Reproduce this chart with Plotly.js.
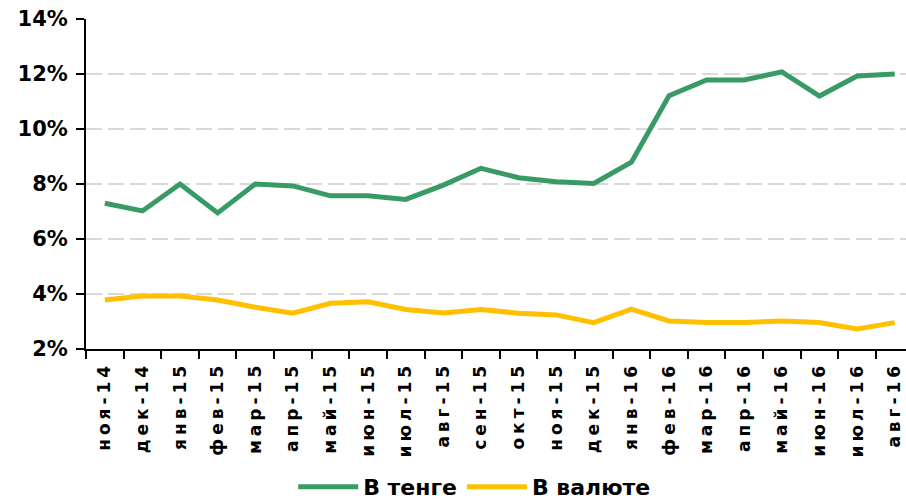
<!DOCTYPE html>
<html>
<head>
<meta charset="utf-8">
<script src="https://cdn.plot.ly/plotly-3.0.1.min.js"></script>
<style>
html,body{margin:0;padding:0;background:#fff;}
#chart{width:906px;height:501px;}
#chart .xtick text{letter-spacing:4px;}
</style>
</head>
<body>
<div id="chart"></div>
<script>
var months = ["ноя-14","дек-14","янв-15","фев-15","мар-15","апр-15","май-15","июн-15","июл-15","авг-15","сен-15","окт-15","ноя-15","дек-15","янв-16","фев-16","мар-16","апр-16","май-16","июн-16","июл-16","авг-16"];
var tenge = [7.30,7.02,8.00,6.95,8.00,7.93,7.57,7.57,7.44,7.96,8.57,8.23,8.08,8.02,8.79,11.21,11.78,11.78,12.08,11.20,11.93,12.00];
var currency = [3.78,3.93,3.93,3.78,3.52,3.30,3.66,3.72,3.44,3.31,3.44,3.30,3.24,2.96,3.45,3.02,2.96,2.96,3.02,2.96,2.73,2.96];
var yTicks = [2,4,6,8,10,12,14];
var yTickText = ["2%","4%","6%","8%","10%","12%","14%"];
var seriesNames = ["В тенге","В валюте"];

var fontFam = "DejaVu Sans, Verdana, sans-serif";
var traces = [
  {x: months, y: tenge, name: seriesNames[0], type: "scatter", mode: "lines",
   line: {color: "#389b66", width: 5}},
  {x: months, y: currency, name: seriesNames[1], type: "scatter", mode: "lines",
   line: {color: "#ffc000", width: 5}}
];
var layout = {
  width: 906, height: 501,
  margin: {l: 86, r: 0, t: 19, b: 152, pad: 0, autoexpand: false},
  paper_bgcolor: "#fff", plot_bgcolor: "#fff",
  showlegend: true,
  font: {family: fontFam, color: "#000"},
  xaxis: {
    type: "category", range: [-0.5, 21.3],
    tickangle: -90, tickson: "boundaries", ticks: "outside", ticklen: 8, tickwidth: 2, tickcolor: "#000",
    ticklabelstandoff: 4,
    showline: true, linecolor: "#000", linewidth: 2, showgrid: false, zeroline: false,
    tickfont: {family: fontFam, size: 17, weight: "bold", color: "#000"},
    fixedrange: true
  },
  yaxis: {
    range: [2, 14], tickvals: yTicks, ticktext: yTickText,
    ticks: "outside", ticklen: 8, tickwidth: 2, tickcolor: "#000",
    ticklabelstandoff: 4,
    showline: true, linecolor: "#000", linewidth: 2,
    showgrid: true, gridcolor: "#d9d9d9", gridwidth: 2, griddash: "16px,6px",
    zeroline: false,
    tickfont: {family: fontFam, size: 21, weight: "bold", color: "#000"},
    fixedrange: true
  },
  legend: {
    orientation: "h", x: 0.474, xanchor: "center",
    yref: "container", y: 0.028, yanchor: "middle",
    font: {family: fontFam, size: 22, weight: "bold", color: "#000"},
    bgcolor: "rgba(0,0,0,0)", itemwidth: 60, tracegroupgap: 0
  }
};
Plotly.newPlot("chart", traces, layout, {displayModeBar: false, staticPlot: true});
</script>
</body>
</html>
